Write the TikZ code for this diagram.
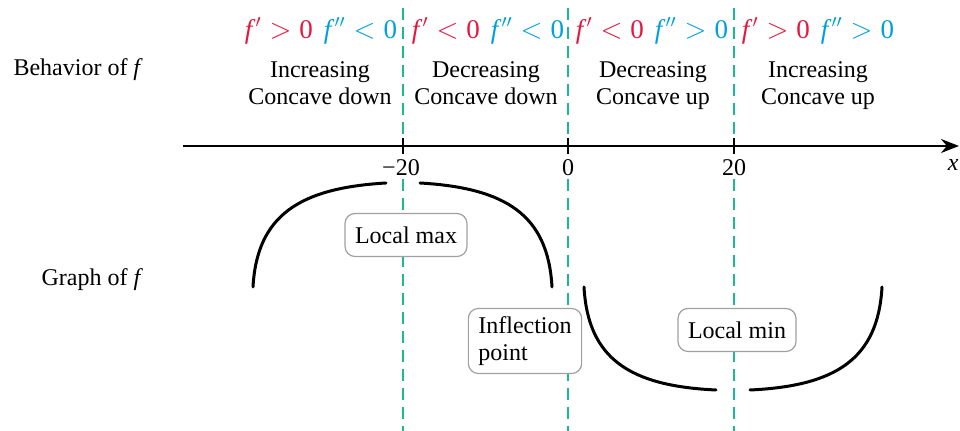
\documentclass[tikz,border=0pt]{standalone}
\usepackage{fontspec}
\setmainfont{Liberation Serif}
\usetikzlibrary{arrows.meta}
\definecolor{posred}{HTML}{E5173F}
\definecolor{negblue}{HTML}{00A0DC}
\definecolor{sepgreen}{HTML}{1DB992}
\definecolor{boxgray}{HTML}{A0A0A0}
\newcommand{\px}{0.5pt}
\newcommand{\sgn}[3]{{\color{#1}$\mathit{f}\mkern2mu{}#2#3\mathrm{0}$}}

\begin{document}
\begin{tikzpicture}[x=\px, y=-\px, font=\fontsize{12}{13.5}\selectfont,
    sep/.style={draw=sepgreen, line width=0.9pt, dash pattern=on 6pt off 3.5pt},
    signs/.style={font=\fontsize{13.5}{16}\selectfont},
    curve/.style={line width=1.5pt, line cap=round},
    box/.style={draw=boxgray, line width=0.6pt, fill=white, rounded corners=5pt, inner xsep=5pt, inner ysep=4pt, minimum height=21.5pt},
    tick/.style={fill=white, inner sep=1.5pt, anchor=north}]
    \useasboundingbox (0,0) rectangle (960,431);

    % Separators
    \draw[sep] (403,8) -- (403,431);
    \draw[sep] (568,8) -- (568,431);
    \draw[sep] (734,8) -- (734,431);

    % Signs of f' and f''
    \node[signs] (sign-1) at (321,31) {\sgn{posred}{'}{>}\hspace{5.5pt}\sgn{negblue}{''}{<}};
    \node[signs] (sign-2) at (488,31) {\sgn{posred}{'}{<}\hspace{5.5pt}\sgn{negblue}{''}{<}};
    \node[signs] (sign-3) at (652,31) {\sgn{posred}{'}{<}\hspace{5.5pt}\sgn{negblue}{''}{>}};
    \node[signs] (sign-4) at (818,31) {\sgn{posred}{'}{>}\hspace{5.5pt}\sgn{negblue}{''}{>}};

    % Behavior
    \node[anchor=east] (behavior) at (150,70) {Behavior of \textit{f}};
    \node[align=center] (beh-1) at (320,85.5) {Increasing\strut\\Concave down\strut};
    \node[align=center] (beh-2) at (486,85.5) {Decreasing\strut\\Concave down\strut};
    \node[align=center] (beh-3) at (653,85.5) {Decreasing\strut\\Concave up\strut};
    \node[align=center] (beh-4) at (818,85.5) {Increasing\strut\\Concave up\strut};

    % Axis
    \coordinate (axis-l) at (183,146);
    \coordinate (axis-r) at (959,146);
    \draw[line width=0.9pt, -{Stealth[length=9pt, width=7pt]}] (axis-l) -- (axis-r);
    \draw[line width=0.7pt] (403,138) -- (403,154);
    \draw[line width=0.7pt] (568,138) -- (568,154);
    \draw[line width=0.7pt] (734,138) -- (734,154);
    \node[tick] (tick-1) at (401,156) {−20};
    \node[tick] (tick-2) at (568,156) {0};
    \node[tick] (tick-3) at (734,156) {20};
    \node[anchor=east, inner sep=0pt] (xlabel) at (959,165) {\textit{x}};

    % Graph
    \node[anchor=east] (graph) at (150,280) {Graph of \textit{f}};
    \draw[curve] (253,287) .. controls (257,215) and (300,188) .. (386,183);
    \draw[curve] (420,183) .. controls (506,188) and (548,215) .. (552,287);
    \draw[curve] (584,287) .. controls (588,359) and (630,386) .. (716,390);
    \draw[curve] (750,390) .. controls (836,386) and (878,359) .. (882,287);

    \node[box] (max) at (406,235) {Local max};
    \node[box, align=left] (infl) at (525,341) {Inflection\\point};
    \node[box] (min) at (737,330) {Local min};

\end{tikzpicture}
\end{document}
